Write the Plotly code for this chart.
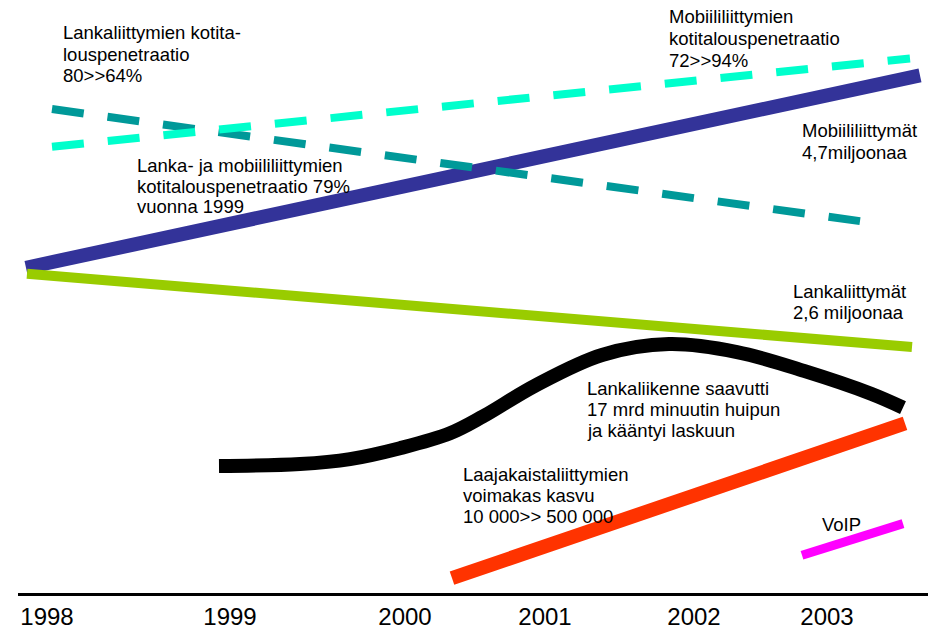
import plotly.graph_objects as go

# Horizontal position scale shared by every series, with the year labels
# sitting at their own positions along the baseline.
year_labels = ["1998", "1999", "2000", "2001", "2002", "2003"]
year_positions = [47, 230, 405, 545, 694, 827]

# Subscriptions (mobile) – rising trend
mobile_x = [26, 920]
mobile_y = [360, 554]

# Fixed-line subscriptions – slow decline
fixed_x = [27, 912]
fixed_y = [354, 280]

# Fixed-line traffic volume – peaks and turns down
traffic_x = [219, 300, 350, 400, 450, 483, 535, 602, 669, 737, 804, 871, 903]
traffic_y = [160, 162, 167, 178, 193, 210, 241, 272, 283, 275, 256, 233, 219]

# Broadband subscriptions
broadband_x = [452, 905]
broadband_y = [47, 203]

# VoIP
voip_x = [802, 903]
voip_y = [70, 102]

# Household penetration: fixed line (falling) and mobile (rising)
fixed_pen_x = [52, 860]
fixed_pen_y = [520, 407]
mobile_pen_x = [52, 910]
mobile_pen_y = [482, 571]

# Text notes: (lines, left x, centre of the first line, line step)
notes = [
    (["Lankaliittymien kotita-", "louspenetraatio", "80>>64%"], 61, 597, 21.7),
    (["Mobiililiittymien", "kotitalouspenetraatio", "72>>94%"], 667, 613, 22.0),
    (["Mobiililiittymät", "4,7miljoonaa"], 800, 498, 21.5),
    (["Lanka- ja mobiililiittymien", "kotitalouspenetraatio 79%", "vuonna 1999"], 135, 463, 20.7),
    (["Lanka ja mobiili-", "liittymät 2,8 miljoonaa"], 11, 320, 20.0),
    (["Lankaliittymät", "2,6 miljoonaa"], 791, 336, 21.0),
    (["Lankaliikenne saavutti", "17 mrd minuutin huipun", "ja kääntyi laskuun"], 585, 238, 21.2),
    (["Laajakaistaliittymien", "voimakas kasvu", "10 000>> 500 000"], 461, 152, 21.2),
    (["VoIP"], 820, 101, 0),
]

FONT = "Arial, Liberation Sans, sans-serif"

fig = go.Figure()

def add_line(x, y, color, width, dash="solid", shape="linear"):
    fig.add_trace(go.Scatter(
        x=x, y=y, mode="lines",
        line=dict(color=color, width=width, dash=dash, shape=shape, smoothing=1.0),
        hoverinfo="skip", showlegend=False, cliponaxis=False,
    ))

add_line(mobile_x, mobile_y, "#333399", 14)
add_line(fixed_x, fixed_y, "#99CC00", 10)
add_line(traffic_x, traffic_y, "#000000", 14, shape="spline")
add_line(broadband_x, broadband_y, "#FF3300", 14)
add_line(voip_x, voip_y, "#FF00FF", 9)
add_line(fixed_pen_x, fixed_pen_y, "#009999", 8, dash="32px,24px")
add_line(mobile_pen_x, mobile_pen_y, "#00FFCC", 8, dash="32px,24px")

for lines, x, y0, step in notes:
    for i, text in enumerate(lines):
        fig.add_annotation(
            x=x, y=y0 - i * step, xref="x", yref="y", text=text, showarrow=False,
            xanchor="left", yanchor="middle", align="left",
            font=dict(family=FONT, size=18.5, color="#000000"),
        )

fig.update_layout(
    width=928, height=630,
    margin=dict(l=18, r=0, t=0, b=32),
    paper_bgcolor="#FFFFFF", plot_bgcolor="#FFFFFF",
    xaxis=dict(
        range=[18, 928], showgrid=False, zeroline=False,
        showline=True, linecolor="#000000", linewidth=3,
        tickmode="array", tickvals=year_positions, ticktext=year_labels,
        ticks="", tickfont=dict(family=FONT, size=24, color="#000000"),
        fixedrange=True,
    ),
    yaxis=dict(
        range=[32, 630], showgrid=False, zeroline=False, showline=False,
        showticklabels=False, ticks="", fixedrange=True,
    ),
)

fig.write_html("out.html")
